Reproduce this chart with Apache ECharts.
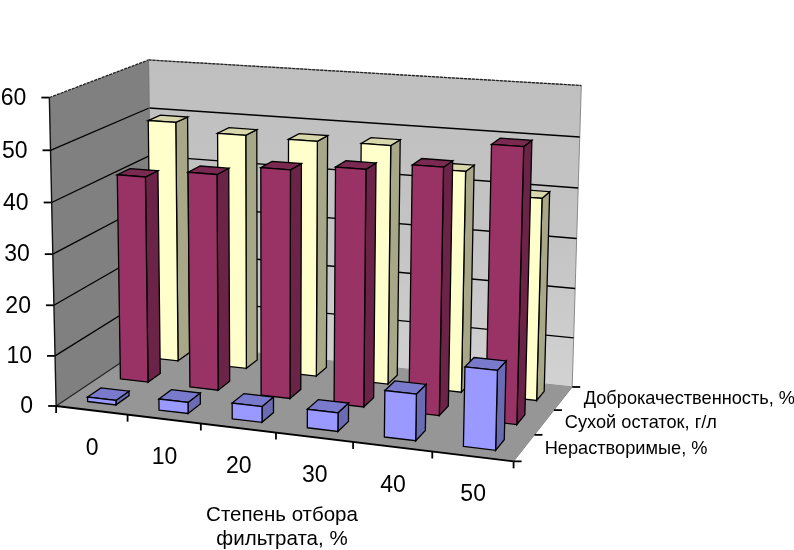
<!DOCTYPE html>
<html>
<head>
<meta charset="utf-8">
<style>html,body{margin:0;padding:0;background:#fff}#c{width:794px;height:550px;filter:blur(0.4px)}</style>
<script src="https://cdn.jsdelivr.net/npm/echarts@6/dist/echarts.min.js"></script>
</head>
<body>
<div id="c"></div>
<script>
const categories = ['0', '10', '20', '30', '40', '50'];
const rowNames = ['Нерастворимые, %', 'Сухой остаток, г/л', 'Доброкачественность, %'];
const insoluble = [0.9, 2.2, 3.1, 3.6, 8.9, 15];
const dryResidue = [41.6, 43.2, 45.2, 46.4, 47.9, 52.8];
const quality = [49.6, 48, 47.8, 48, 44, 39.9];
const valueTicks = [0, 10, 20, 30, 40, 50, 60];
const axisTitle = ['Степень отбора', 'фильтрата, %'];

const FONT = '"Liberation Sans", Arial, sans-serif';
const GRID = { left: 100, top: 100, width: 600, height: 300 };

// Where the corners of the 3D box fall on the page: [u, v, w, pageX, pageY]
const BOX = [
  [0, 0, 0, 58, 405], [1, 0, 0, 513, 463], [1, 1, 0, 573, 385], [0, 1, 0, 150, 343],
  [0, 0, 1, 48, 97], [0, 1, 1, 150, 60], [1, 1, 1, 581, 86]
];

function solveProjection(pts) {
  const rows = [], rhs = [];
  pts.forEach(([u, v, w, X, Y]) => {
    rows.push([u, v, w, 1, 0, 0, 0, 0, -X * u, -X * v, -X * w]); rhs.push(X);
    rows.push([0, 0, 0, 0, u, v, w, 1, -Y * u, -Y * v, -Y * w]); rhs.push(Y);
  });
  const n = 11, M = [];
  for (let i = 0; i < n; i++) {
    M[i] = [];
    for (let j = 0; j < n; j++) M[i][j] = rows.reduce((s, r) => s + r[i] * r[j], 0);
    M[i][n] = rows.reduce((s, r, k) => s + r[i] * rhs[k], 0);
  }
  for (let c = 0; c < n; c++) {
    let p = c;
    for (let r = c + 1; r < n; r++) if (Math.abs(M[r][c]) > Math.abs(M[p][c])) p = r;
    [M[c], M[p]] = [M[p], M[c]];
    for (let r = 0; r < n; r++) {
      if (r === c) continue;
      const f = M[r][c] / M[c][c];
      for (let j = c; j <= n; j++) M[r][j] -= f * M[c][j];
    }
  }
  return M.map((r, i) => r[n] / r[i]);
}
const C = solveProjection(BOX);
function project(u, v, w) {
  const d = C[8] * u + C[9] * v + C[10] * w + 1;
  return [(C[0] * u + C[1] * v + C[2] * w + C[3]) / d, (C[4] * u + C[5] * v + C[6] * w + C[7]) / d];
}
const toU = px => (px - GRID.left) / GRID.width;
const toW = py => (GRID.top + GRID.height - py) / GRID.height;

function poly(points, fill, stroke, lw) {
  return { type: 'polygon', shape: { points }, style: { fill, stroke: stroke || 'none', lineWidth: lw || 0 } };
}
function line(a, b, stroke, lw, dash) {
  return { type: 'line', shape: { x1: a[0], y1: a[1], x2: b[0], y2: b[1] },
    style: { stroke, lineWidth: lw || 1, lineDash: dash || null } };
}
function label(text, x, y, size, align) {
  return { type: 'text', style: { text, x, y, fontSize: size, fontFamily: FONT, fill: '#000',
    align: align || 'center', verticalAlign: 'middle' } };
}

function renderFrame(params, api) {
  const kids = [];
  const wOf = t => toW(api.coord([0, t])[1]);
  const band = api.size([1, 0])[0] / GRID.width;
  const edges = categories.map((_, i) => toU(api.coord([i, 0])[0]) - band / 2);
  edges.push(edges[edges.length - 1] + band);

  const backGrad = new echarts.graphic.LinearGradient(0, 0, 0, 1, [
    { offset: 0, color: '#bfbfbf' }, { offset: 0.55, color: '#c4c4c4' }, { offset: 1, color: '#d2d2d2' }]);
  kids.push(poly([project(0, 1, 0), project(1, 1, 0), project(1, 1, 1), project(0, 1, 1)], backGrad, '#8a8a8a', 1));
  kids.push(poly([project(0, 0, 0), project(0, 1, 0), project(0, 1, 1), project(0, 0, 1)], '#808080'));
  kids.push(poly([project(0, 0, 0), project(1, 0, 0), project(1, 1, 0), project(0, 1, 0)], '#969696'));

  // gridlines on both walls, tick marks and value labels
  valueTicks.forEach(t => {
    const w = wOf(t);
    const a = project(0, 0, w), b = project(0, 1, w), c = project(1, 1, w);
    if (t > 0) {
      const top = t === valueTicks[valueTicks.length - 1];
      kids.push(line(a, b, top ? '#222' : '#000', 1.3, top ? [3, 1] : null));
      kids.push(line(b, c, top ? '#222' : '#000', 1.3, top ? [3, 1] : null));
    } else {
      kids.push(line(a, b, '#222', 1.2));
    }
    kids.push(line([a[0] - 8, a[1]], a, '#000', 1.8));
    kids.push(label(String(t), a[0] - 23, a[1] + 1, 23, 'right'));
  });
  kids.push(line(project(0, 0, 0), project(0, 0, 1), '#111', 1.4));
  kids.push(line(project(0, 1, 0), project(0, 1, 1), '#777', 1));
  kids.push(line(project(1, 0, 0), project(1, 1, 0), '#8a8a8a', 1));
  kids.push(line(project(0, 0, 0), project(1, 0, 0), '#000', 1.8));

  // category ticks and labels along the front edge
  edges.forEach(u => {
    const p = project(u, 0, 0);
    kids.push(line(p, [p[0], p[1] + 7], '#000', 1.8));
  });
  categories.forEach((c, i) => {
    const p = project((edges[i] + edges[i + 1]) / 2, 0, 0);
    kids.push(label(c, p[0] + 0.5, p[1] + 38.5, 23));
  });

  // depth ticks and row labels along the right edge
  for (let r = 0; r <= rowNames.length; r++) {
    const p = project(1, r / rowNames.length, 0);
    kids.push(line(p, [p[0] + 8, p[1]], '#000', 1.8));
  }
  rowNames.forEach((name, r) => {
    const p = project(1, (r + 0.5) / rowNames.length, 0);
    kids.push(label(name, p[0] + 20.5, p[1] + 1, 18.2, 'left'));
  });

  kids.push(label(axisTitle[0], 282, 515, 20.5));
  kids.push(label(axisTitle[1], 282, 539, 20.5));
  return { type: 'group', children: kids };
}

function makeBars(rowIndex, colors) {
  return function (params, api) {
    const cat = api.value(0), val = api.value(1);
    const base = api.coord([cat, 0]), top = api.coord([cat, val]);
    const band = api.size([1, 0])[0] / GRID.width;
    const uc = toU(base[0]);
    const u0 = uc - band * 0.2, u1 = uc + band * 0.2;
    const nr = rowNames.length;
    const v0 = (rowIndex + 0.3) / nr, v1 = (rowIndex + 0.7) / nr;
    const w0 = 0, w1 = toW(top[1]);
    const edge = '#000', lw = 1.3;
    return { type: 'group', children: [
      poly([project(u1, v0, w0), project(u1, v1, w0), project(u1, v1, w1), project(u1, v0, w1)], colors[1], edge, lw),
      poly([project(u0, v0, w1), project(u1, v0, w1), project(u1, v1, w1), project(u0, v1, w1)], colors[2], edge, lw),
      poly([project(u0, v0, w0), project(u1, v0, w0), project(u1, v0, w1), project(u0, v0, w1)], colors[0], edge, lw)
    ] };
  };
}
const rowSeries = (values, r, colors) => ({
  type: 'custom', coordinateSystem: 'cartesian2d', clip: false, silent: true,
  name: rowNames[r], encode: { x: 0, y: 1 },
  data: values.map((v, i) => [i, v]),
  renderItem: makeBars(r, colors)
});

const chart = echarts.init(document.getElementById('c'), null, { renderer: 'canvas' });
chart.setOption({
  animation: false,
  backgroundColor: '#fff',
  grid: GRID,
  xAxis: { type: 'category', data: categories, show: false },
  yAxis: { type: 'value', min: 0, max: 60, interval: 10, show: false },
  series: [
    { type: 'custom', coordinateSystem: 'cartesian2d', clip: false, silent: true,
      encode: { x: 0, y: 1 }, data: [[0, 0]], renderItem: renderFrame },
    rowSeries(quality, 2, ['#FFFFCC', '#A8A888', '#D8D8AC']),
    rowSeries(dryResidue, 1, ['#993366', '#6B2347', '#7A2951']),
    rowSeries(insoluble, 0, ['#9999FF', '#6B6BB3', '#7A7ACC'])
  ]
});
</script>
</body>
</html>
